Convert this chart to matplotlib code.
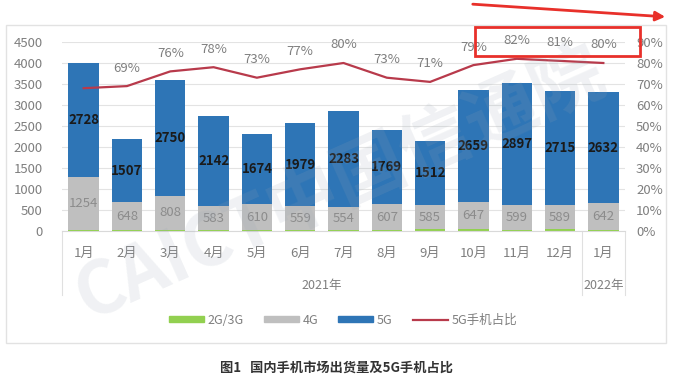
import matplotlib

matplotlib.use("Agg")
import matplotlib.pyplot as plt
from matplotlib.lines import Line2D
from matplotlib.patches import Patch, Rectangle

plt.rcParams["font.family"] = ["Noto Sans CJK SC", "DejaVu Sans"]

months = ["1月", "2月", "3月", "4月", "5月", "6月", "7月", "8月", "9月", "10月", "11月", "12月", "1月"]
years = ["2021年", "2022年"]
g23 = [26, 32, 28, 17, 21, 28, 29, 29, 38, 52, 29, 36, 28]
g4 = [1254, 648, 808, 583, 610, 559, 554, 607, 585, 647, 599, 589, 642]
g5 = [2728, 1507, 2750, 2142, 1674, 1979, 2283, 1769, 1512, 2659, 2897, 2715, 2632]
share = [68, 69, 76, 78, 73, 77, 80, 73, 71, 79, 82, 81, 80]
show_share = [False] + [True] * 12

GREEN = "#92d050"
GREY = "#bfbfbf"
BLUE = "#2e75b6"
RED = "#b83a4b"
TXT = "#7f7f7f"

fig = plt.figure(figsize=(6.73, 3.78), dpi=100)
W, H = 673, 378


def fx(px):
    return px / W


def fy(py):
    return 1 - py / H


ax = fig.add_axes([fx(62), fy(231), fx(625) - fx(62), fy(42) - fy(231)])
x = list(range(len(months)))
bw = 0.7
ax.bar(x, g23, bw, color=GREEN, zorder=2)
ax.bar(x, g4, bw, bottom=g23, color=GREY, zorder=2)
base5 = [a + b for a, b in zip(g23, g4)]
ax.bar(x, g5, bw, bottom=base5, color=BLUE, zorder=2)

for i in x:
    ax.text(i, g23[i] + g4[i] / 2, str(g4[i]), ha="center", va="center",
            fontsize=9.5, color="#8c8c8c", zorder=4)
    ax.text(i, base5[i] + g5[i] / 2, str(g5[i]), ha="center", va="center",
            fontsize=9.5, color="#1a1a1a", fontweight="bold", zorder=4)

ax.set_xlim(-0.5, len(months) - 0.5)
ax.set_ylim(0, 4500)
ax.set_yticks(range(0, 4501, 500))
ax.grid(axis="y", color="#e3e3e3", linewidth=0.8, zorder=0)
ax.tick_params(axis="y", length=0, labelsize=9.5, labelcolor=TXT, pad=14)
ax.set_xticks([])
for s in ["top", "right", "left"]:
    ax.spines[s].set_visible(False)
ax.spines["bottom"].set_color("#d9d9d9")

ax2 = ax.twinx()
ax2.set_ylim(0, 90)
ax2.set_yticks(range(0, 91, 10))
ax2.set_yticklabels([f"{v}%" for v in range(0, 91, 10)])
ax2.tick_params(axis="y", length=0, labelsize=9.5, labelcolor=TXT, pad=8)
for s in ["top", "right", "left", "bottom"]:
    ax2.spines[s].set_visible(False)
ax2.plot(x, share, color=RED, linewidth=1.6, zorder=5)
for i in x:
    if show_share[i]:
        ax2.annotate(f"{share[i]}%", (i, share[i]), xytext=(0, 13),
                     textcoords="offset points", ha="center", va="center",
                     fontsize=9.5, color=TXT)

# multi-level category axis
for i, m in enumerate(months):
    ax.text(i, -530, m, ha="center", va="center", fontsize=9.5, color=TXT)
ax.text(5.5, -1300, years[0], ha="center", va="center", fontsize=9, color=TXT)
ax.text(12, -1300, years[1], ha="center", va="center", fontsize=9, color=TXT)
for xv in [-0.5, 11.5, 12.5]:
    ax.plot([xv, xv], [0, -1530], color="#e0e0e0", linewidth=0.8, clip_on=False)

# watermark
fig.text(fx(340), fy(185), "CAICT中国信通院", fontsize=52, color="#9aa5b5",
         alpha=0.15, rotation=24, ha="center", va="center", fontweight="bold")

# legend
handles = [
    Patch(color=GREEN, label="2G/3G"),
    Patch(color=GREY, label="4G"),
    Patch(color=BLUE, label="5G"),
    Line2D([], [], color=RED, linewidth=1.6, label="5G手机占比"),
]
leg = fig.legend(handles=handles, loc="center", bbox_to_anchor=(fx(343), fy(320)),
                 ncol=4, frameon=False, fontsize=9, handlelength=2.8,
                 handleheight=0.45, columnspacing=1.6, handletextpad=0.3)
for t in leg.get_texts():
    t.set_color(TXT)

# chart frame
fig.add_artist(Rectangle((fx(6), fy(343)), fx(666) - fx(6), fy(25) - fy(343),
                         transform=fig.transFigure, fill=False,
                         edgecolor="#e2e2e2", linewidth=1))

# red highlight
fig.add_artist(Rectangle((fx(475), fy(56)), fx(640) - fx(475), fy(27) - fy(56),
                         transform=fig.transFigure, fill=False,
                         edgecolor="#e8302a", linewidth=2, zorder=10))
fig.add_artist(matplotlib.patches.FancyArrowPatch(
    (fx(470), fy(4)), (fx(668), fy(17)), transform=fig.transFigure,
    arrowstyle="-|>", mutation_scale=14, color="#e8302a", linewidth=2, zorder=10))

fig.text(0.5, fy(368), "图1   国内手机市场出货量及5G手机占比", ha="center", va="center",
         fontsize=9.5, fontweight="bold", color="#333333")

fig.savefig("out.png", dpi=100)
